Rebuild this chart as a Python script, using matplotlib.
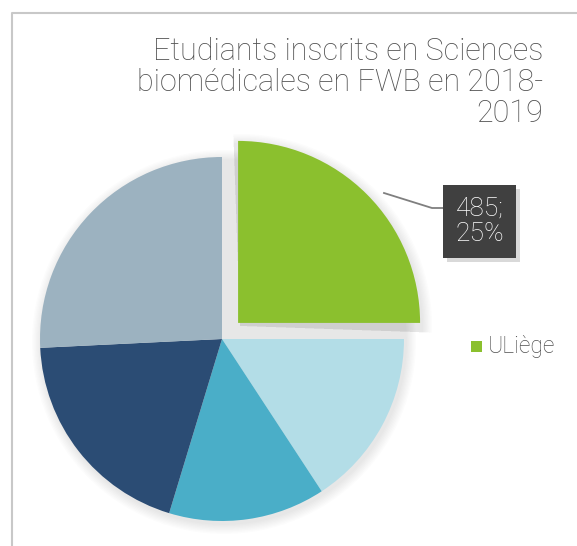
import numpy as np
import matplotlib.pyplot as plt
from matplotlib.patches import Circle, Wedge, Rectangle

# data
labels = ['ULiège', 'autre 1', 'autre 2', 'autre 3', 'autre 4']
values = [485, 306, 270, 379, 500]
colors = ['#8BC02E', '#B3DDE7', '#4AAEC8', '#2B4C74', '#9CB2C0']
title = 'Etudiants inscrits en Sciences\nbiomédicales en FWB en 2018-\n2019'

W, H = 577, 546
fig = plt.figure(figsize=(W / 100, H / 100), dpi=100)
ax = fig.add_axes([0, 0, 1, 1])

cx, cy, r = 222, H - 339, 182
off = 0.125 * r  # explode distance of the ULiège slice
explode = [off, 0, 0, 0, 0]

# soft shadow round the pie
for k in range(8):
    ax.add_patch(Circle((cx + 2, cy - 3), r + 10 - k * 1.3, color='#000000',
                        alpha=0.012, lw=0, zorder=0))
d = off / np.sqrt(2)
for k in range(8):
    ax.add_patch(Wedge((cx + d + 2, cy + d - 3), r + 10 - k * 1.3, -2, 92,
                       color='#000000', alpha=0.012, lw=0, zorder=0))

wedges, _ = ax.pie(values, colors=colors, startangle=90, counterclock=False,
                   explode=explode, center=(cx, cy), radius=r,
                   wedgeprops=dict(linewidth=0), normalize=True)
for w in wedges:
    w.set_zorder(2)

fnt = 'Roboto'

# data label for ULiège
pct = values[0] / sum(values) * 100
ax.plot([384, 432, 443], [H - 193, H - 208, H - 208], color='#7F7F7F', lw=1.3, zorder=3)
ax.add_patch(Rectangle((447, H - 262), 73, 73, color='#000000', alpha=0.15, lw=0, zorder=3))
ax.add_patch(Rectangle((443, H - 258), 73, 73, color='#404040', lw=0, zorder=4))
ax.text(479.5, H - 221.5, f'{values[0]};\n{pct:.0f}%', color='white', fontsize=19,
        family=fnt, weight='light', ha='center', va='center', linespacing=1.1,
        zorder=5)

# legend (only the first entry is visible)
ax.add_patch(Rectangle((471, H - 352), 11, 11, color=colors[0], lw=0))
ax.text(488, H - 346, labels[0], color='#505050', fontsize=16.5, family=fnt,
        weight='light', ha='left', va='center')

# title
ax.text(543, H - 37, title, color='#505050', fontsize=22, family=fnt,
        weight='light', ha='right', va='top', linespacing=1.08)

# chart frame
ax.plot([11.5, 11.5, W], [0, H - 13, H - 13], color='#C8C8C8', lw=1.5)

ax.set_xlim(0, W)
ax.set_ylim(0, H)
ax.set_aspect('equal')
ax.axis('off')
fig.savefig('out.png', dpi=100)
